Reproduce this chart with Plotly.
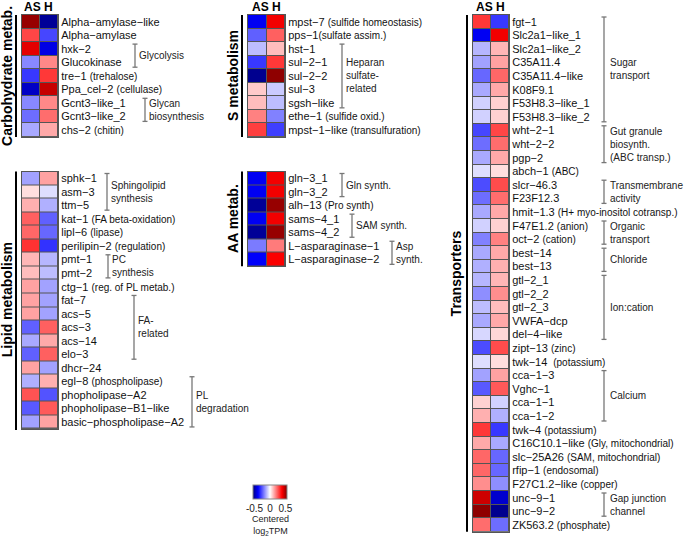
import plotly.graph_objects as go

W, H = 685, 538
def px(x): return x / W
def py(y): return 1 - y / H

# ---------------- DATA ----------------
carb_genes = ["Alpha−amylase−like", "Alpha−amylase", "hxk−2", "Glucokinase", "tre−1",
              "Ppa_cel−2", "Gcnt3−like_1", "Gcnt3−like_2", "chs−2"]
carb_notes = ["", "", "", "", "(trehalose)", "(cellulase)", "", "", "(chitin)"]
carb_as = [0.52, 0.28, 0.42, -0.18, -0.30, -0.46, -0.18, -0.22, -0.13]
carb_h = [-0.52, -0.28, -0.42, 0.18, 0.30, 0.46, 0.18, 0.22, 0.13]

lipid_genes = ["sphk−1", "asm−3", "ttm−5", "kat−1", "lipl−6", "perilipin−2", "pmt−1", "pmt−2",
               "ctg−1", "fat−7", "acs−5", "acs−3", "acs−14", "elo−3", "dhcr−24", "egl−8",
               "phopholipase−A2", "phopholipase−B1−like", "basic−phospholipase−A2"]
lipid_notes = ["", "", "", "(FA beta-oxidation)", "(lipase)", "(regulation)", "", "",
               "(reg. of PL metab.)", "", "", "", "", "", "", "(phospholipase)", "", "", ""]
lipid_as = [-0.14, 0.05, 0.12, 0.24, 0.23, 0.31, 0.11, 0.10, 0.14, 0.14, 0.14, -0.24, -0.13,
            -0.24, 0.14, -0.12, 0.26, -0.25, -0.14]
lipid_h = [0.14, -0.05, -0.12, -0.24, -0.23, -0.31, -0.11, -0.10, -0.14, -0.14, -0.14, 0.24, 0.13,
           0.24, -0.14, 0.12, -0.26, 0.25, 0.14]

s_genes = ["mpst−7", "pps−1", "hst−1", "sul−2−1", "sul−2−2", "sul−3", "sgsh−like", "ethe−1",
           "mpst−1−like"]
s_notes = ["(sulfide homeostasis)", "(sulfate assim.)", "", "", "", "", "", "(sulfide oxid.)",
           "(transulfuration)"]
s_as = [-0.40, -0.24, -0.10, -0.30, -0.53, 0.08, 0.10, 0.19, 0.29]
s_h = [0.40, 0.24, 0.10, 0.30, 0.53, -0.08, -0.10, -0.19, -0.29]

aa_genes = ["gln−3_1", "gln−3_2", "alh−13", "sams−4_1", "sams−4_2", "L−asparaginase−1",
            "L−asparaginase−2"]
aa_notes = ["", "", "(Pro synth)", "", "", "", ""]
aa_as = [-0.40, -0.40, -0.52, -0.40, -0.52, -0.20, -0.39]
aa_h = [0.40, 0.40, 0.52, 0.40, 0.52, 0.20, 0.39]

tr_genes = ["fgt−1", "Slc2a1−like_1", "Slc2a1−like_2", "C35A11.4", "C35A11.4−like", "K08F9.1",
            "F53H8.3−like_1", "F53H8.3−like_2", "wht−2−1", "wht−2−2", "pgp−2", "abch−1",
            "slcr−46.3", "F23F12.3", "hmit−1.3", "F47E1.2", "oct−2", "best−14", "best−13",
            "gtl−2_1", "gtl−2_2", "gtl−2_3", "VWFA−dcp", "del−4−like", "zipt−13", "twk−14",
            "cca−1−3", "Vghc−1", "cca−1−1", "cca−1−2", "twk−4", "C16C10.1−like", "slc−25A26",
            "rfip−1", "F27C1.2−like", "unc−9−1", "unc−9−2", "ZK563.2"]
tr_notes = ["", "", "", "", "", "", "", "", "", "", "", "(ABC)", "", "",
            "(H+ myo-inositol cotransp.)", "(anion)", "(cation)", "", "", "", "", "", "", "",
            "(zinc)", " (potassium)", "", "", "", "", "(potassium)", "(Gly, mitochondrial)",
            "(SAM, mitochondrial)", "(endosomal)", "(copper)", "", "", "(phosphate)"]
tr_as = [0.30, -0.40, -0.11, -0.14, -0.23, -0.13, -0.07, -0.07, -0.28, -0.22, -0.13, -0.05,
         -0.27, -0.22, -0.13, -0.07, -0.19, -0.13, -0.12, -0.11, -0.17, -0.10, -0.13, -0.06,
         -0.27, -0.05, -0.14, -0.25, 0.07, 0.12, 0.30, 0.13, 0.23, 0.23, 0.17, 0.45, 0.53, 0.22]
tr_h = [-0.30, 0.40, 0.11, 0.14, 0.23, 0.13, 0.07, 0.07, 0.28, 0.22, 0.13, 0.05,
        0.27, 0.22, 0.13, 0.07, 0.19, 0.13, 0.12, 0.11, 0.17, 0.10, 0.13, 0.06,
        0.27, 0.05, 0.14, 0.25, -0.07, -0.12, -0.30, -0.13, -0.23, -0.23, -0.17, -0.45, -0.53, -0.22]

samples = ["AS", "H"]
colorbar_ticks = [-0.5, 0, 0.5]

# ---------------- FIGURE ----------------
FONT = "Liberation Sans, Arial, sans-serif"
fig = go.Figure()
shapes = []
annotations = []
layout_axes = {}

def label_html(g, n):
    if not n:
        return g
    sep = "" if g == "pps−1" else " "
    return f"{g}{sep}<span style='font-size:10px'>{n}</span>"

def add_panel(idx, genes, notes, as_v, h_v, x0, x1, y0, rh):
    y1 = y0 + rh * len(genes)
    sfx = "" if idx == 1 else str(idx)
    fig.add_trace(go.Heatmap(
        z=[[a, b] for a, b in zip(as_v, h_v)], x=samples, y=genes,
        xaxis="x" + sfx, yaxis="y" + sfx, coloraxis="coloraxis",
        xgap=1, ygap=1, hoverongaps=False))
    layout_axes["xaxis" + sfx] = dict(domain=[px(x0), px(x1)], anchor="y" + sfx,
                                       showticklabels=False, ticks="", showgrid=False,
                                       zeroline=False, showline=True, mirror=True,
                                       linecolor="#555", linewidth=1)
    layout_axes["yaxis" + sfx] = dict(domain=[py(y1), py(y0)], anchor="x" + sfx, side="right",
                                       autorange="reversed", tickmode="array", tickvals=genes,
                                       ticktext=[label_html(g, n) for g, n in zip(genes, notes)],
                                       ticks="", ticklen=0,
                                       showgrid=False, zeroline=False, showline=True,
                                       mirror=True, linecolor="#555", linewidth=1,
                                       tickfont=dict(size=11, color="#111", family=FONT))
    return y1

def bracket(xb, y0, rh, r1, r2, text, lx=None):
    yt = y0 + r1 * rh + 2
    yb = y0 + (r2 + 1) * rh - 2
    c = "#777"
    shapes.append(dict(type="line", xref="paper", yref="paper", x0=px(xb), x1=px(xb),
                       y0=py(yt), y1=py(yb), line=dict(color=c, width=1.3)))
    for yy in (yt, yb):
        shapes.append(dict(type="line", xref="paper", yref="paper", x0=px(xb - 2.5),
                           x1=px(xb + 2.5), y0=py(yy), y1=py(yy), line=dict(color=c, width=1.3)))
    annotations.append(dict(x=px(lx if lx else xb + 2), y=py((yt + yb) / 2), xref="paper",
                            yref="paper", text=text, showarrow=False, xanchor="left",
                            yanchor="middle", align="left",
                            font=dict(size=10, color="#222", family=FONT)))

def vbar(x, ya, yb):
    shapes.append(dict(type="line", xref="paper", yref="paper", x0=px(x), x1=px(x),
                       y0=py(ya), y1=py(yb), line=dict(color="black", width=2)))

def title(x, y, text):
    annotations.append(dict(x=px(x), y=py(y), xref="paper", yref="paper", text=f"<b>{text}</b>",
                            showarrow=False, textangle=-90, xanchor="center", yanchor="middle",
                            font=dict(size=14, color="black", family=FONT)))

def header(x, y):
    annotations.append(dict(x=px(x), y=py(y), xref="paper", yref="paper",
                            text="<b>" + " ".join(samples) + "</b>", showarrow=False,
                            xanchor="center", yanchor="middle",
                            font=dict(size=12, color="black", family=FONT)))

RH = 13.55
RT = 13.6
c_top, l_top = 15, 171.5
c_bot = add_panel(1, carb_genes, carb_notes, carb_as, carb_h, 22, 58, c_top, RH)
l_bot = add_panel(2, lipid_genes, lipid_notes, lipid_as, lipid_h, 22, 58, l_top, RH)
s_bot = add_panel(3, s_genes, s_notes, s_as, s_h, 248, 285, c_top, RH)
a_bot = add_panel(4, aa_genes, aa_notes, aa_as, aa_h, 248, 285, l_top, RH)
t_bot = add_panel(5, tr_genes, tr_notes, tr_as, tr_h, 473, 509, c_top, RT)

# section bars
vbar(16, c_top, c_bot)
vbar(16, l_top, l_bot + 1)
vbar(242, c_top, s_bot)
vbar(242, l_top, a_bot)
vbar(467, c_top, t_bot)

# section titles
title(7, (c_top + c_bot) / 2, "Carbohydrate metab.")
title(7, (l_top + l_bot) / 2, "Lipid metabolism")
title(233, (c_top + s_bot) / 2, "S metabolism")
title(233, (l_top + a_bot) / 2, "AA metab.")
title(456, (c_top + t_bot) / 2, "Transporters")

header(38, 7)
header(266, 7)
header(491, 7)

# brackets
bracket(135, c_top, RH, 2, 3, "Glycolysis")
bracket(145, c_top, RH, 6, 7, "Glycan<br>biosynthesis")
bracket(107, l_top, RH, 0, 2, "Sphingolipid<br>synthesis")
bracket(108, l_top, RH, 6, 7, "PC<br>synthesis")
bracket(134, l_top, RH, 9, 13, "FA-<br>related")
bracket(192, l_top, RH, 15, 18, "PL<br>degradation")
bracket(342, c_top, RH, 2, 6, "Heparan<br>sulfate-<br>related")
bracket(342, l_top, RH, 0, 1, "Gln synth.")
bracket(352, l_top, RH, 3, 4, "SAM synth.")
bracket(392, l_top, RH, 5, 6, "Asp<br>synth.")
TL = 607.5
bracket(604, c_top, RT, 0, 7, "Sugar<br>transport", TL)
bracket(604, c_top, RT, 8, 10, "Gut granule<br>biosynth.<br>(ABC transp.)", TL)
bracket(604, c_top, RT, 12, 13, "Transmembrane<br>activity", TL)
bracket(604, c_top, RT, 15, 16, "Organic<br>transport", TL)
bracket(604, c_top, RT, 17, 18, "Chloride", TL)
bracket(604, c_top, RT, 19, 23, "Ion:cation", TL)
bracket(604, c_top, RT, 26, 29, "Calcium", TL)
bracket(604, c_top, RT, 35, 36, "Gap junction<br>channel", TL)

# colorbar caption
annotations.append(dict(x=px(270), y=py(538), xref="paper", yref="paper",
                        text="Centered<br>log<sub>2</sub>TPM", showarrow=False, xanchor="center",
                        yanchor="bottom", align="center", borderpad=0,
                        font=dict(size=9, color="#222", family=FONT)))

fig.update_layout(
    width=W, height=H, margin=dict(l=0, r=0, t=0, b=0),
    paper_bgcolor="white", plot_bgcolor="#555",
    font=dict(family=FONT, size=11, color="#111"),
    showlegend=False,
    coloraxis=dict(
        cmin=-0.55, cmax=0.55,
        colorscale=[[0, "#000080"], [0.15, "#0000ff"], [0.5, "#ffffff"],
                    [0.85, "#ff0000"], [1, "#800000"]],
        colorbar=dict(orientation="h", x=px(270), xanchor="center", y=py(485), yanchor="top",
                      len=34, lenmode="pixels", thickness=14, thicknessmode="pixels",
                      outlinewidth=1, outlinecolor="#888", xpad=0, ypad=0,
                      tickmode="array", tickvals=colorbar_ticks,
                      ticktext=[str(t) for t in colorbar_ticks], ticks="",
                      tickfont=dict(size=10, color="#222", family=FONT))),
    shapes=shapes, annotations=annotations, **layout_axes)

fig.write_html("out.html", config={"displayModeBar": False},
               post_script="document.body.style.margin='0px';")
